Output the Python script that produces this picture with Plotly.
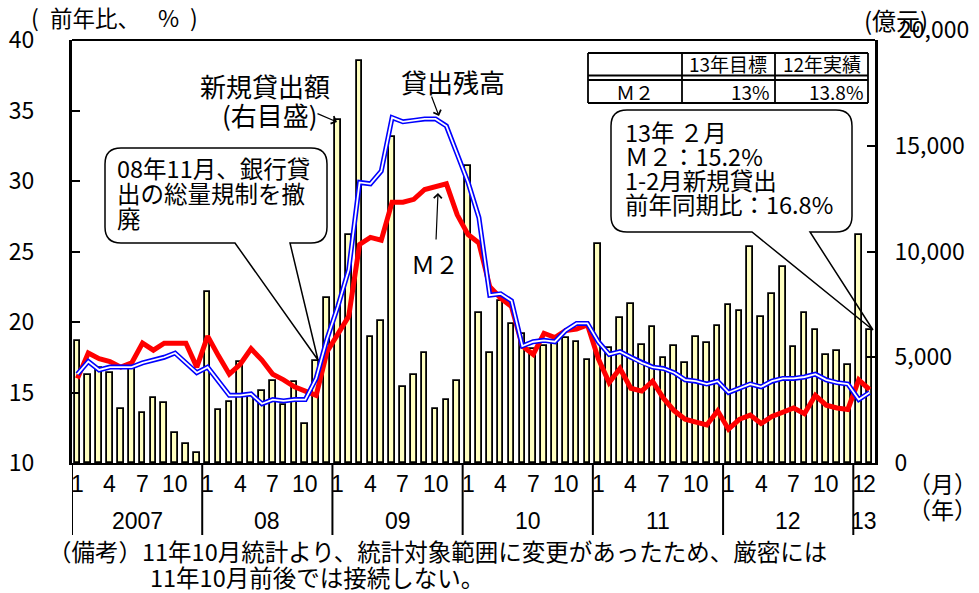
import plotly.graph_objects as go

# ---------------- data ----------------
year_labels = ["2007", "08", "09", "10", "11", "12", "13"]
year_counts = [12, 12, 12, 12, 12, 12, 2]   # months per year shown (2013: Jan-Feb)

# new loans (100 million yuan), monthly, Jan 2007 - Feb 2013
new_loans = [
    5750, 4180, 4500, 4260, 2550, 4570, 2360, 3070, 2860, 1410, 900, 490,
    8090, 2490, 2880, 4760, 3180, 3390, 3860, 2750, 3830, 1850, 4810, 7800,
    16240, 10780, 19010, 5970, 6700, 15400, 3590, 4150, 5210, 2570, 2990, 3860,
    14040, 7080, 5180, 7660, 6550, 6080, 5370, 5530, 5760, 5920, 5730, 4860,
    10360, 5420, 6870, 7500, 5570, 6430, 4970, 5530, 4730, 5950, 5690, 6470,
    7460, 7190, 10190, 6900, 8010, 9280, 5480, 7110, 6290, 5130, 5290, 4620,
    10780, 6270,
]

# M2 growth, y/y %
m2_growth = [
    16.0, 17.8, 17.4, 17.2, 16.8, 17.1, 18.5, 18.0, 18.5, 18.5, 18.5, 16.8,
    19.0, 17.6, 16.3, 17.0, 18.1, 17.3, 16.3, 15.9, 15.4, 15.1, 14.8, 17.9,
    19.2, 20.4, 25.5, 26.0, 25.8, 28.5, 28.5, 28.7, 29.4, 29.6, 29.8, 27.6,
    26.2, 25.6, 22.5, 21.7, 21.1, 18.3, 17.7, 19.2, 18.9, 19.4, 19.5, 19.8,
    17.4, 15.7, 16.7, 15.3, 15.1, 15.8, 14.6, 13.7, 13.1, 12.9, 12.7, 13.7,
    12.4, 13.1, 13.4, 12.8, 13.3, 13.6, 13.9, 13.5, 14.8, 14.1, 13.9, 13.8,
    15.9, 15.2,
]

# loans outstanding growth, y/y %
loan_growth = [
    16.3, 17.2, 16.6, 16.8, 16.8, 16.8, 17.1, 17.3, 17.5, 17.8, 17.1, 16.4,
    16.8, 15.8, 14.8, 14.8, 14.9, 14.2, 14.5, 14.4, 14.5, 14.5, 16.0, 18.8,
    21.1, 23.7, 29.9, 29.8, 30.7, 34.5, 34.2, 34.3, 34.4, 34.4, 33.9, 31.9,
    29.9, 27.4, 21.9, 22.0, 21.5, 18.3, 18.6, 18.7, 18.6, 19.4, 19.9, 19.9,
    18.6, 17.7, 17.9, 17.5, 17.1, 16.8, 16.7, 16.4, 15.9, 15.8, 15.6, 15.8,
    15.0, 15.3, 15.6, 15.4, 15.8, 16.0, 16.0, 16.1, 16.3, 15.9, 15.7, 15.6,
    14.5, 15.0,
]

month_ticks = ["1", "4", "7", "10"]
right_tickvals = [0, 5000, 10000, 15000]
right_ticktext = ["0", "5,000", "10,000", "15,000"]
right_top_value = 20000
right_top_text = "20,000"

# ---------------- layout helpers ----------------
FIG_W, FIG_H = 979, 593
L, R, T, B = 72, 875, 40, 463
W, H = R - L, B - T


def px(x):
    return (x - L) / W


def py(y):
    return (B - y) / H


JP = "Noto Sans CJK JP"
NUM = "Liberation Sans Narrow, Liberation Sans, Arial, sans-serif"

n = len(new_loans)
idx = list(range(n))

fig = go.Figure()
fig.add_trace(go.Bar(
    x=idx, y=new_loans, yaxis="y", width=0.52,
    marker=dict(color="#FFFFC0", line=dict(color="black", width=1.8)),
    hoverinfo="skip",
))
fig.add_trace(go.Scatter(
    x=idx, y=m2_growth, yaxis="y2", mode="lines",
    line=dict(color="#FF0000", width=5),
))
fig.add_trace(go.Scatter(
    x=idx, y=loan_growth, yaxis="y2", mode="lines",
    line=dict(color="#0000FF", width=5),
))
fig.add_trace(go.Scatter(
    x=idx, y=loan_growth, yaxis="y2", mode="lines",
    line=dict(color="white", width=1.8),
))

shapes = []
annotations = []

# top border
shapes.append(dict(type="line", xref="paper", yref="paper", x0=0, x1=1, y0=1, y1=1,
                   line=dict(color="black", width=2), layer="above"))

# month labels, year separators and year labels
start = 0
for lab, cnt in zip(year_labels, year_counts):
    shapes.append(dict(type="line", xref="x", yref="paper", x0=start - 0.5, x1=start - 0.5,
                       y0=0, y1=py(535), line=dict(color="black", width=2)))
    annotations.append(dict(xref="x", yref="paper", x=start + (cnt - 1) / 2, y=py(521),
                            text=lab, showarrow=False, xanchor="center", yanchor="middle",
                            font=dict(family=NUM, size=23, color="black")))
    if cnt == 12:
        marks = [(3 * j, t) for j, t in enumerate(month_ticks)]
    else:
        marks = [(j, str(j + 1)) for j in range(cnt)]
    for off, t in marks:
        annotations.append(dict(xref="x", yref="paper", x=start + off, y=py(484),
                                text=t, showarrow=False, xanchor="center", yanchor="middle",
                                font=dict(family=NUM, size=23, color="black")))
    start += cnt

# top label of the right axis (drawn slightly raised, as in the original)
annotations.append(dict(xref="paper", yref="y", x=px(897), y=right_top_value,
                        yshift=12, text=right_top_text, showarrow=False,
                        xanchor="left", yanchor="middle",
                        font=dict(family=JP, size=23, color="black")))


def txt(x, y, s, size=23.5, anchor="left", family=JP):
    annotations.append(dict(xref="paper", yref="paper", x=px(x), y=py(y), text=s,
                            showarrow=False, xanchor=anchor, yanchor="middle",
                            font=dict(family=family, size=size, color="black")))


def arrow(x0, y0, x1, y1):
    annotations.append(dict(xref="paper", yref="paper", x=px(x1), y=py(y1),
                            axref="pixel", ayref="pixel", ax=x0 - x1, ay=y0 - y1,
                            text="", showarrow=True, arrowhead=4, arrowsize=1.3,
                            arrowwidth=1.2, arrowcolor="black"))


def callout(x0, y0, x1, y1, r, bx0, bx1, tx, ty):
    P = lambda x, y: f"{px(x):.5f},{py(y):.5f}"
    path = (f"M {P(x0 + r, y0)} L {P(x1 - r, y0)} Q {P(x1, y0)} {P(x1, y0 + r)} "
            f"L {P(x1, y1 - r)} Q {P(x1, y1)} {P(x1 - r, y1)} "
            f"L {P(bx1, y1)} L {P(tx, ty)} L {P(bx0, y1)} "
            f"L {P(x0 + r, y1)} Q {P(x0, y1)} {P(x0, y1 - r)} "
            f"L {P(x0, y0 + r)} Q {P(x0, y0)} {P(x0 + r, y0)} Z")
    shapes.append(dict(type="path", xref="paper", yref="paper", path=path,
                       line=dict(color="black", width=1.5),
                       fillcolor="rgba(0,0,0,0)", layer="above"))


# axis captions
txt(35, 17, "(", size=23, anchor="center")
txt(48, 17, "前年比、", size=22.5)
txt(168, 17, "%", size=23, anchor="center")
txt(194, 17, ")", size=23, anchor="center")
txt(862, 20, "(億元)", size=24)
txt(906, 483, "（月）", size=23)
txt(906, 509, "（年）", size=23)

# footnote
txt(46, 551, "（備考）11年10月統計より、統計対象範囲に変更があったため、厳密には", size=23.5)
txt(148, 577, "11年10月前後では接続しない。", size=23.5)

# labels with arrows
txt(265, 85, "新規貸出額", size=26, anchor="center")
txt(270, 114, "(右目盛)", size=26, anchor="center")
arrow(316, 113, 337, 122)
txt(453, 81, "貸出残高", size=26, anchor="center")
arrow(431, 95, 439, 116)
txt(435, 263, "Ｍ２", size=24, anchor="center")
arrow(436, 241, 438, 193)

# callout 1
callout(105, 148, 327, 243, 16, 235, 290, 318, 360)
txt(115, 168, "08年11月、銀行貸")
txt(115, 193, "出の総量規制を撤")
txt(115, 218, "廃")

# callout 2
callout(611, 110, 852, 232, 16, 752, 810, 873, 330)
txt(623, 132, "13年 ２月")
txt(623, 156, "Ｍ２：15.2%")
txt(623, 180, "1-2月新規貸出")
txt(623, 204, "前年同期比：16.8%")

# target table
tx0, tx1, ty0, ty1 = 588, 868, 53, 103
for (a, b, c, d) in [(tx0, ty0, tx1, ty0), (tx0, ty1, tx1, ty1), (tx0, ty0, tx0, ty1),
                     (tx1, ty0, tx1, ty1), (682, ty0, 682, ty1), (775, ty0, 775, ty1),
                     (tx0, 75.5, tx1, 75.5), (tx0, 80, tx1, 80)]:
    shapes.append(dict(type="line", xref="paper", yref="paper", x0=px(a), y0=py(b),
                       x1=px(c), y1=py(d), line=dict(color="black", width=1.8), layer="above"))
txt(728, 64, "13年目標", size=19, anchor="center")
txt(822, 64, "12年実績", size=19, anchor="center")
txt(635, 92, "Ｍ２", size=19, anchor="center")
txt(772, 92, "13%", size=19, anchor="right")
txt(865, 92, "13.8%", size=19, anchor="right")

fig.update_layout(
    width=FIG_W, height=FIG_H,
    margin=dict(l=L, r=FIG_W - R, t=T, b=FIG_H - B, pad=0, autoexpand=False),
    paper_bgcolor="white", plot_bgcolor="white",
    showlegend=False, bargap=0,
    font=dict(family=JP, color="black"),
    xaxis=dict(range=[-0.5, n - 0.5], showticklabels=False, ticks="",
               showline=True, linecolor="black", linewidth=2, showgrid=False,
               zeroline=False, automargin=False),
    yaxis=dict(side="right", range=[0, right_top_value], tickmode="array",
               tickvals=right_tickvals + [right_top_value], ticktext=right_ticktext + [""],
               ticks="inside", ticklen=8, tickwidth=2, tickcolor="black",
               showline=True, linecolor="black", linewidth=3, showgrid=False, zeroline=False,
               automargin=False,
               ticklabelstandoff=12, tickfont=dict(family=JP, size=23, color="black")),
    yaxis2=dict(overlaying="y", side="left", range=[10, 40], tick0=10, dtick=5,
                ticks="inside", ticklen=8, tickwidth=2, tickcolor="black",
                showline=True, linecolor="black", linewidth=3, showgrid=False, zeroline=False,
                automargin=False,
                ticklabelstandoff=30, tickfont=dict(family=JP, size=23, color="black")),
    shapes=shapes, annotations=annotations,
)

fig.write_html("out.html", config={"displayModeBar": False},
               post_script="document.body.style.margin='0';")
